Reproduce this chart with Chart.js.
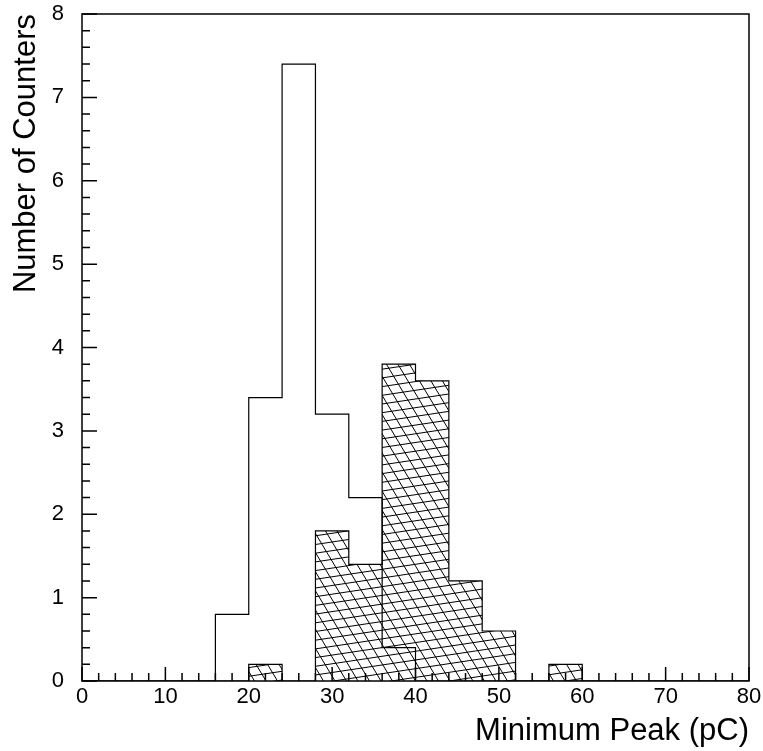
<!DOCTYPE html>
<html>
<head>
<meta charset="utf-8">
<script src="https://cdn.jsdelivr.net/npm/chart.js@4/dist/chart.umd.min.js"></script>
<style>
  body { margin: 0; background: #fff; }
  canvas { display: block; }
</style>
</head>
<body>
<canvas id="peak" width="763" height="751"></canvas>
<script>
// bin edges in pC (20 bins of 4 pC)
const binEdges = [0, 4, 8, 12, 16, 20, 24, 28, 32, 36, 40, 44, 48, 52, 56, 60, 64, 68, 72, 76, 80];

// counts per bin, open histogram
const openCounts = [0, 0, 0, 0, 0.8, 3.4, 7.4, 3.2, 2.2, 0.4, 0, 0, 0, 0, 0, 0, 0, 0, 0, 0];
// counts per bin, hatched histogram
const hatchedCounts = [0, 0, 0, 0, 0, 0.2, 0, 1.8, 1.4, 3.8, 3.6, 1.2, 0.6, 0, 0.2, 0, 0, 0, 0, 0];

const xTicks = [0, 10, 20, 30, 40, 50, 60, 70, 80];
const yTicks = [0, 1, 2, 3, 4, 5, 6, 7, 8];

// one point per left bin edge, plus the closing edge at 80
function stepPoints(values) {
	return binEdges.map((x, i) => ({ x: x, y: i < values.length ? values[i] : 0 }));
}

Chart.defaults.color = '#000';
Chart.defaults.font.family = '"Liberation Sans", Arial, sans-serif';

// cross hatching clipped to the area under dataset 1
const hatchPlugin = {
	id: 'hatch',
	afterDatasetsDraw(chart) {
		const pts = chart.getDatasetMeta(1).data;
		const ctx = chart.ctx;
		const a = chart.chartArea;
		const y0 = chart.scales.y.getPixelForValue(0);

		ctx.save();
		ctx.beginPath();
		ctx.moveTo(pts[0].x, y0);
		pts.forEach((p, i) => {
			if (i > 0) ctx.lineTo(p.x, pts[i - 1].y);
			ctx.lineTo(p.x, p.y);
		});
		ctx.lineTo(pts[pts.length - 1].x, y0);
		ctx.closePath();
		ctx.clip();

		ctx.strokeStyle = '#000';
		ctx.lineWidth = 1;
		ctx.beginPath();
		const h = a.bottom - a.top;
		const w = a.right - a.left;
		const run = h * 0.6;
		for (let x = a.left - run; x <= a.right; x += 11.5) {
			ctx.moveTo(x, a.top);
			ctx.lineTo(x + run, a.bottom);
		}
		const rise = w * 0.15;
		for (let y = a.top; y <= a.bottom + rise; y += 8.7) {
			ctx.moveTo(a.left, y);
			ctx.lineTo(a.right, y - rise);
		}
		ctx.stroke();
		ctx.restore();
	}
};

// box around the plot and inward tick marks
const framePlugin = {
	id: 'frame',
	afterDraw(chart) {
		const ctx = chart.ctx;
		const a = chart.chartArea;
		const xs = chart.scales.x;
		const ys = chart.scales.y;

		ctx.save();
		ctx.strokeStyle = '#000';
		ctx.lineWidth = 1.5;
		ctx.strokeRect(a.left, a.top, a.right - a.left, a.bottom - a.top);

		ctx.beginPath();
		for (let i = 0; i <= 40; i++) {
			const v = i * 2;
			const px = xs.getPixelForValue(v);
			const len = v % 10 === 0 ? 14 : 8;
			ctx.moveTo(px, a.bottom);
			ctx.lineTo(px, a.bottom - len);
		}
		for (let i = 0; i <= 40; i++) {
			const py = ys.getPixelForValue(i / 5);
			const len = i % 5 === 0 ? 15 : 8;
			ctx.moveTo(a.left, py);
			ctx.lineTo(a.left + len, py);
		}
		ctx.stroke();
		ctx.restore();
	}
};

new Chart(document.getElementById('peak'), {
	type: 'line',
	data: {
		datasets: [
			{
				data: stepPoints(openCounts),
				borderColor: '#000',
				borderWidth: 1.2,
				stepped: true,
				pointRadius: 0,
				fill: false
			},
			{
				data: stepPoints(hatchedCounts),
				borderColor: '#000',
				borderWidth: 1.2,
				stepped: true,
				pointRadius: 0,
				fill: false
			}
		]
	},
	options: {
		responsive: false,
		animation: false,
		layout: { padding: { top: 14, right: 14, left: 0, bottom: 0 } },
		plugins: {
			legend: { display: false },
			tooltip: { enabled: false }
		},
		scales: {
			x: {
				type: 'linear',
				min: 0,
				max: 80,
				grid: { display: false, drawTicks: false },
				border: { display: false },
				afterBuildTicks: s => { s.ticks = xTicks.map(v => ({ value: v })); },
				afterFit: s => { s.height = 70; s.paddingLeft = 0; s.paddingRight = 0; },
				ticks: { font: { size: 22 }, padding: 3, maxRotation: 0 },
				title: {
					display: true,
					text: 'Minimum Peak (pC)',
					align: 'end',
					font: { size: 31 },
					padding: { top: 0, bottom: 1 }
				}
			},
			y: {
				type: 'linear',
				min: 0,
				max: 8,
				grid: { display: false, drawTicks: false },
				border: { display: false },
				afterBuildTicks: s => { s.ticks = yTicks.map(v => ({ value: v })); },
				afterFit: s => { s.width = 82; s.paddingTop = 0; s.paddingBottom = 0; },
				ticks: { font: { size: 22 }, padding: 18 },
				title: {
					display: true,
					text: 'Number of Counters',
					align: 'end',
					font: { size: 31 },
					padding: { top: 8, bottom: 0 }
				}
			}
		}
	},
	plugins: [hatchPlugin, framePlugin]
});
</script>
</body>
</html>
